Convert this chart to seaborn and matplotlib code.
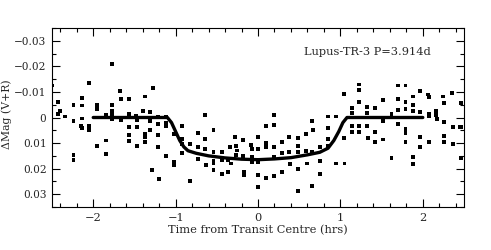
import matplotlib
matplotlib.use('Agg')
import pandas as pd
import seaborn as sns
from matplotlib import pyplot as plt
from matplotlib.ticker import MultipleLocator

# photometry points (hrs from transit centre, delta mag)
time_hrs = [
    -2.50, -2.43, -2.43, -2.40, -2.34, -2.24, -2.24, -2.24, -2.24, -2.14,
    -2.14, -2.14, -2.15, -2.14, -2.05, -2.05, -2.05, -1.95, -1.95, -1.95,
    -1.85, -1.85, -1.85, -1.77, -1.77, -1.77, -1.77, -1.77, -1.67, -1.66,
    -1.66, -1.57, -1.57, -1.57, -1.57, -1.57, -1.48, -1.47, -1.47, -1.47,
    -1.40, -1.37, -1.37, -1.37, -1.37, -1.31, -1.31, -1.31, -1.29, -1.27,
    -1.21, -1.21, -1.21, -1.21, -1.20, -1.12, -1.12, -1.12, -1.12, -1.02,
    -1.02, -1.02, -0.92, -0.92, -0.92, -0.92, -0.82, -0.82, -0.73, -0.73,
    -0.73, -0.64, -0.64, -0.64, -0.63, -0.54, -0.54, -0.54, -0.54, -0.54,
    -0.44, -0.44, -0.44, -0.37, -0.36, -0.34, -0.33, -0.28, -0.27, -0.27,
    -0.26, -0.18, -0.18, -0.17, -0.17, -0.085, -0.075, -0.075, -0.075, 0.0,
    0.0, 0.0, 0.0, 0.0, 0.10, 0.10, 0.10, 0.10, 0.19, 0.19,
    0.19, 0.19, 0.19, 0.29, 0.29, 0.29, 0.38, 0.38, 0.39, 0.48,
    0.48, 0.48, 0.48, 0.48, 0.58, 0.58, 0.59, 0.66, 0.67, 0.66,
    0.66, 0.75, 0.75, 0.75, 0.85, 0.85, 0.85, 0.85, 0.95, 0.95,
    1.04, 1.04, 1.05, 1.14, 1.14, 1.14, 1.14, 1.23, 1.23, 1.23,
    1.23, 1.23, 1.32, 1.32, 1.32, 1.33, 1.42, 1.42, 1.42, 1.52,
    1.52, 1.52, 1.62, 1.62, 1.70, 1.70, 1.70, 1.70, 1.79, 1.79,
    1.79, 1.79, 1.79, 1.79, 1.88, 1.88, 1.88, 1.88, 1.88, 1.97,
    1.97, 1.97, 1.97, 2.06, 2.07, 2.07, 2.07, 2.07, 2.16, 2.16,
    2.17, 2.25, 2.26, 2.26, 2.26, 2.26, 2.36, 2.37, 2.37, 2.45,
    2.46, 2.46, 2.47,
]
dmag = [
    -0.0125, -0.0060, -0.0012, -0.0024, -0.0004, -0.0050, 0.0012, 0.0145, 0.0167, -0.0078,
    -0.0047, 0.0004, 0.0033, 0.0042, -0.0135, 0.0033, 0.0048, -0.0050, -0.0033, 0.0112,
    -0.0010, 0.0090, 0.0142, -0.0208, -0.0050, -0.0024, -0.0014, 0.0005, -0.0102, -0.0072,
    0.0009, -0.0072, -0.0012, 0.0038, 0.0067, 0.0093, -0.0007, 0.0009, 0.0038, 0.0112,
    -0.0025, -0.0082, 0.0065, 0.0075, 0.0097, -0.0021, 0.0012, 0.0048, 0.0205, -0.0116,
    -0.0004, 0.0025, 0.0067, 0.0114, 0.0240, -0.0004, 0.0022, 0.0033, 0.0149, 0.0065,
    0.0175, 0.0184, 0.0035, 0.0084, 0.0103, 0.0140, 0.0103, 0.0247, 0.0061, 0.0116,
    0.0162, -0.0008, 0.0084, 0.0123, 0.0184, 0.0048, 0.0136, 0.0169, 0.0180, 0.0205,
    0.0136, 0.0166, 0.0221, 0.0166, 0.0214, 0.0114, 0.0180, 0.0075, 0.0110, 0.0145,
    0.0129, 0.0088, 0.0149, 0.0214, 0.0224, 0.0107, 0.0123, 0.0153, 0.0175, 0.0123,
    0.0075, 0.0175, 0.0224, 0.0273, 0.0034, 0.0101, 0.0116, 0.0237, -0.0010, 0.0029,
    0.0116, 0.0153, 0.0230, 0.0097, 0.0140, 0.0214, 0.0075, 0.0136, 0.0182, 0.0080,
    0.0110, 0.0136, 0.0201, 0.0286, 0.0064, 0.0132, 0.0180, 0.0014, 0.0048, 0.0136,
    0.0267, 0.0114, 0.0171, 0.0221, -0.0004, 0.0042, 0.0084, 0.0110, -0.0004, 0.0180,
    -0.0093, 0.0081, 0.0180, -0.0038, -0.0017, 0.0034, 0.0058, -0.0129, -0.0106, -0.0060,
    0.0034, 0.0058, -0.0040, -0.0017, 0.0034, 0.0080, -0.0038, 0.0058, 0.0097, -0.0069,
    0.0014, 0.0086, -0.0012, 0.0158, -0.0125, -0.0073, -0.0030, 0.0027, -0.0125, -0.0060,
    -0.0034, 0.0044, 0.0061, 0.0094, -0.0082, -0.0050, -0.0025, 0.0156, 0.0182, -0.0103,
    -0.0021, 0.0077, 0.0116, -0.0090, -0.0080, -0.0014, -0.0004, 0.0094, -0.0025, -0.0008,
    0.0005, -0.0082, -0.0056, 0.0018, 0.0071, 0.0094, -0.0095, 0.0038, 0.0103, 0.0038,
    -0.0056, 0.0158, 0.0038,
]

# fitted transit model
model_time = [-2.0, -1.1, -1.05, -1.0, -0.95, -0.9, -0.85, -0.75, -0.6, -0.4, -0.2,
              0.0, 0.2, 0.4, 0.6, 0.75, 0.85, 0.92, 0.98, 1.03, 1.08, 2.0]
model_dmag = [0.0, 0.0, 0.002, 0.0055, 0.009, 0.0115, 0.013, 0.014, 0.015, 0.0158, 0.0163,
              0.0165, 0.0162, 0.0157, 0.0146, 0.0136, 0.012, 0.009, 0.0055, 0.002, 0.0, 0.0]

label = 'Lupus-TR-3 P=3.914d'
FS = 8.2


def main():
    sns.set_theme(style='ticks')
    plt.rcParams['font.family'] = ['DejaVu Serif']
    plt.rcParams['font.size'] = FS

    df = pd.DataFrame({'t': time_hrs, 'dm': dmag})
    model = pd.DataFrame({'t': model_time, 'dm': model_dmag})

    fig = plt.figure(figsize=(4.91, 2.5), dpi=100)
    ax = fig.add_axes([0.106, 0.172, 0.839, 0.716])

    sns.scatterplot(data=df, x='t', y='dm', marker='s', s=8, color='black',
                    edgecolor='none', linewidth=0, ax=ax)
    sns.lineplot(data=model, x='t', y='dm', sort=False, estimator=None,
                 color='black', linewidth=2.4, ax=ax)

    ax.set_xlim(-2.5, 2.5)
    ax.set_ylim(0.035, -0.035)
    ax.xaxis.set_major_locator(MultipleLocator(1))
    ax.xaxis.set_minor_locator(MultipleLocator(0.2))
    ax.yaxis.set_minor_locator(MultipleLocator(0.005))
    ax.set_yticks([-0.03, -0.02, -0.01, 0, 0.01, 0.02, 0.03])
    ax.set_yticklabels(['\u22120.03', '\u22120.02', '\u22120.01', '0', '0.01', '0.02', '0.03'])
    ax.tick_params(which='both', direction='in', top=True, right=True,
                   labelsize=FS, color='black', width=0.8)
    ax.tick_params(axis='y', labelsize=7.6)
    ax.tick_params(which='major', length=6, pad=4)
    ax.tick_params(which='minor', length=3)
    for sp in ax.spines.values():
        sp.set_linewidth(0.8)
        sp.set_color('black')

    ax.set_xlabel('Time from Transit Centre (hrs)', fontsize=FS, labelpad=2)
    ax.set_ylabel('\u0394Mag (V+R)', fontsize=7.8)
    ax.yaxis.set_label_coords(-0.097, 0.52)
    ax.text(0.765, 0.866, label, transform=ax.transAxes, ha='center', va='center', fontsize=FS)

    fig.savefig('out.png', dpi=100)


if __name__ == '__main__':
    main()
